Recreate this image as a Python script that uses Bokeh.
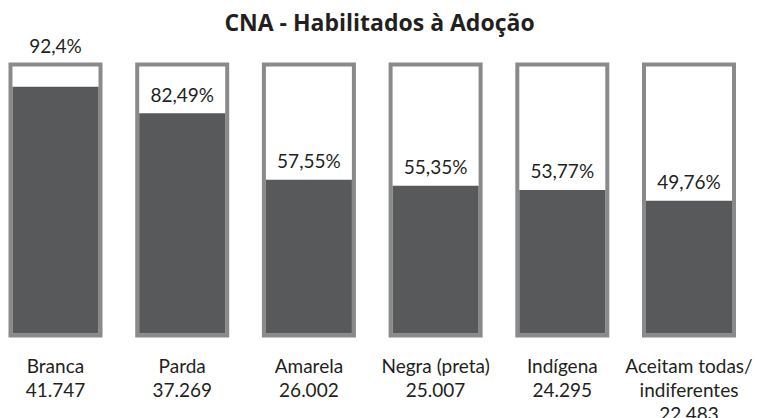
from bokeh.plotting import figure
from bokeh.models import ColumnDataSource, Range1d
from bokeh.core.properties import value
from bokeh.embed import file_html
from bokeh.resources import INLINE

# ---- data ----
categories = ["Branca", "Parda", "Amarela", "Negra (preta)", "Indígena", "Aceitam todas/\nindiferentes"]
counts = ["41.747", "37.269", "26.002", "25.007", "24.295", "22.483"]
percent = [92.4, 82.49, 57.55, 55.35, 53.77, 49.76]
percent_labels = ["92,4%", "82,49%", "57,55%", "55,35%", "53,77%", "49,76%"]

W, H = 758, 418
FRAME_TOP = 36        # frame top (px from canvas top)
PX_PER_UNIT_Y = 2.67  # pixels per percentage point
PX_PER_UNIT_X = 126.7

x_start = -55 / PX_PER_UNIT_X
x_end = x_start + W / PX_PER_UNIT_X
y_start = -(H - 333) / PX_PER_UNIT_Y
y_end = 100 + (66 - FRAME_TOP) / PX_PER_UNIT_Y

p = figure(width=W, height=H, output_backend="svg", toolbar_location=None,
           x_range=Range1d(x_start, x_end), y_range=Range1d(y_start, y_end),
           min_border=0, min_border_left=0, min_border_right=0,
           min_border_top=FRAME_TOP, min_border_bottom=0,
           title="CNA - Habilitados à Adoção")
p.axis.visible = False
p.grid.visible = False
p.outline_line_color = None
p.background_fill_color = "white"
p.border_fill_color = "white"
p.title.align = "center"
p.title.text_font = "Open Sans"
p.title.text_font_size = "23px"
p.title.text_font_style = "bold"
p.title.text_color = "#231f20"
p.title.standoff = -2

xs = list(range(len(categories)))
border = 4 / PX_PER_UNIT_Y
outer_w = 94 / PX_PER_UNIT_X
inner_w = 86 / PX_PER_UNIT_X

src = ColumnDataSource(dict(
    x=xs,
    pct=percent,
    label=percent_labels,
    label_y=[100 + 21 / PX_PER_UNIT_Y if (100 - v) < 12 else v + 19 / PX_PER_UNIT_Y for v in percent],
    cat=[c + "\n" + n for c, n in zip(categories, counts)],
))

p.vbar(x="x", width=outer_w, bottom=-border, top=100 + border, source=src,
       fill_color="#8a8a8a", line_color=None)
p.vbar(x="x", width=inner_w, bottom=0, top=100, source=src,
       fill_color="white", line_color=None)
p.vbar(x="x", width=inner_w, bottom=0, top="pct", source=src,
       fill_color="#58595b", line_color=None)

p.text(x="x", y="label_y", text="label", source=src,
       text_font=value("Lato"), text_font_size="19px", text_color="#231f20",
       text_align="center", text_baseline="alphabetic")

cat_y = -(353 - 333) / PX_PER_UNIT_Y
p.text(x="x", y=cat_y, text="cat", source=src,
       text_font=value("Lato"), text_font_size="19px", text_color="#231f20",
       text_align="center", text_baseline="top", text_line_height=1.05)

open("out.html", "w").write(file_html(p, INLINE))
